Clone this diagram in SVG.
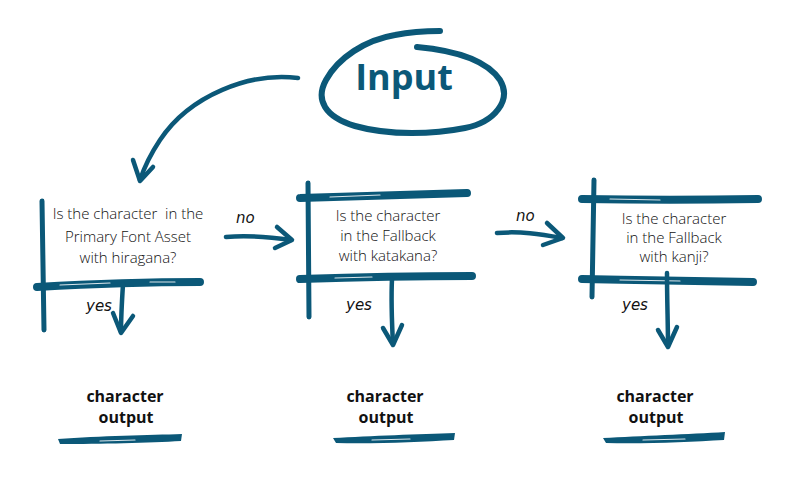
<svg xmlns="http://www.w3.org/2000/svg" width="800" height="500" viewBox="0 0 800 500">
<defs>
<style>
.ink{fill:none;stroke:#0b5878;stroke-linecap:round;stroke-linejoin:round}
.bar{stroke-width:8}
.post{stroke-width:5}
.arr{stroke-width:4.5}
.hl{fill:none;stroke:#ffffff;stroke-width:1.2;stroke-linecap:round;opacity:0.85}
.q{font-family:"Open Sans","Liberation Sans",sans-serif;font-weight:300;font-size:15px;fill:#111;text-anchor:middle}
.out{font-family:"Open Sans","Liberation Sans",sans-serif;font-weight:700;font-size:16px;fill:#111;text-anchor:middle}
.hand{font-family:"DejaVu Sans","Liberation Sans",sans-serif;font-size:15px;fill:#111;font-style:italic}
.uline{fill:#0b5878}
</style>
</defs>
<rect width="800" height="500" fill="#ffffff"/>

<g id="input">
<path class="ink" stroke-width="6" d="M417,47 C450,50 485,58 500,80 C512,100 495,122 465,128 C435,134 390,136 355,126 C325,117 315,100 326,80 C338,58 365,40 395,35 C415,31 430,31 440,31"/>
<text x="404" y="90" font-family="'Open Sans','Liberation Sans',sans-serif" font-weight="700" font-size="36" fill="#0b5878" text-anchor="middle">Input</text>
</g>

<g id="q1">
<path class="ink post" d="M42,201 L44,330"/>
<path class="ink bar" d="M37,287 C90,284 150,282 200,282"/>
<path class="hl" d="M60,285 L110,283 M150,282 L175,282"/>
<text class="q" x="128" y="219">Is the character&#160; in the</text>
<text class="q" x="128" y="242">Primary Font Asset</text>
<text class="q" x="128" y="263">with hiragana?</text>
</g>

<g id="q2">
<path class="ink post" d="M308,183 L309,317"/>
<path class="ink bar" d="M300,198 C360,196 420,194 467,193"/>
<path class="ink bar" d="M300,279 C360,277 420,276 472,276"/>
<path class="hl" d="M330,197 L380,195 M335,278 L372,277"/>
<text class="q" x="388" y="221">Is the character</text>
<text class="q" x="388" y="241">in the Fallback</text>
<text class="q" x="388" y="261">with katakana?</text>
</g>

<g id="q3">
<path class="ink post" d="M594,180 L592,297"/>
<path class="ink bar" d="M582,199 C640,200 700,200 758,199"/>
<path class="ink bar" d="M582,279 C640,280 700,281 753,282"/>
<path class="hl" d="M610,199 L660,200 M620,280 L680,281"/>
<text class="q" x="674" y="224">Is the character</text>
<text class="q" x="674" y="243">in the Fallback</text>
<text class="q" x="674" y="262">with kanji?</text>
</g>

<g id="out1">
<text class="out" x="125" y="402">character</text>
<text class="out" x="126" y="423">output</text>
<path class="uline" d="M58,439 C100,436 150,435 182,434 L181,441 C150,443 100,444 60,444 Z"/>
<path class="hl" d="M100,441 L135,440"/>
</g>
<g id="out2">
<text class="out" x="385" y="402">character</text>
<text class="out" x="386" y="423">output</text>
<path class="uline" d="M333,438 C370,436 420,434 455,433 L454,440 C420,442 375,444 336,443 Z"/>
<path class="hl" d="M372,440 L410,439"/>
</g>
<g id="out3">
<text class="out" x="655" y="402">character</text>
<text class="out" x="656" y="423">output</text>
<path class="uline" d="M603,438 C640,436 690,434 725,432 L724,440 C690,442 645,444 606,443 Z"/>
<path class="hl" d="M643,440 L685,439"/>
</g>

<g id="connectors">
<path class="ink arr" d="M298,78 C250,72 190,95 160,140 C150,155 144,168 140,180"/>
<path class="ink arr" d="M133,160 L140,181 L153,167"/>

<path class="ink arr" d="M226,237 C250,235 270,237 291,240"/>
<path class="ink arr" d="M277,227 L292,240 L275,248"/>
<text class="hand" x="236" y="223">no</text>

<path class="ink arr" d="M497,233 C520,231 540,234 562,238"/>
<path class="ink arr" d="M547,223 L563,238 L543,245"/>
<text class="hand" x="516" y="221">no</text>

<path class="ink arr" d="M123,284 C122,300 121,318 121,332"/>
<path class="ink arr" d="M113,313 L121,333 L133,316"/>
<text class="hand" x="86" y="311">yes</text>

<path class="ink arr" d="M392,279 C391,300 392,325 393,344"/>
<path class="ink arr" d="M383,328 L393,345 L402,325"/>
<text class="hand" x="346" y="310">yes</text>

<path class="ink arr" d="M667,273 C667,300 668,325 668,346"/>
<path class="ink arr" d="M658,330 L668,347 L677,327"/>
<text class="hand" x="622" y="310">yes</text>
</g>
</svg>
